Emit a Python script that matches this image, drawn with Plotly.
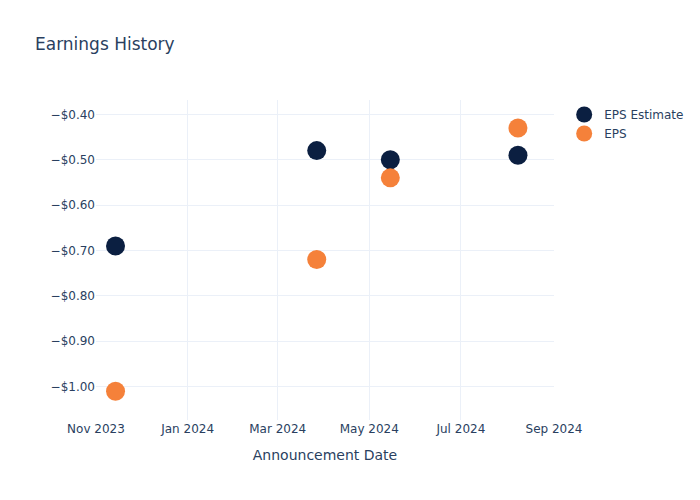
import plotly.graph_objects as go

dates = ["2023-11-14", "2024-03-27", "2024-05-15", "2024-08-08"]
eps_estimate = [-0.69, -0.48, -0.50, -0.49]
eps_actual = [-1.01, -0.72, -0.54, -0.43]

fig = go.Figure()
fig.add_trace(go.Scatter(x=dates, y=eps_estimate, mode="markers", name="EPS Estimate",
                         marker=dict(size=19, color="#0b1f41")))
fig.add_trace(go.Scatter(x=dates, y=eps_actual, mode="markers", name="EPS",
                         marker=dict(size=19, color="#f5813a")))

fig.update_layout(
    template="plotly_white",
    width=700, height=500,
    font=dict(family="DejaVu Sans"),
    title=dict(text="Earnings History"),
    margin=dict(l=96, r=145, t=100, b=80),
    xaxis=dict(title=dict(text="Announcement Date"), range=["2023-11-01", "2024-09-01"],
               dtick="M2", tickformat="%b %Y"),
    yaxis=dict(tickformat="$.2f", dtick=0.1, range=[-1.0734, -0.3685]),
)
fig.write_html("out.html", config={"displayModeBar": False},
               post_script="document.body.style.margin='0';")
